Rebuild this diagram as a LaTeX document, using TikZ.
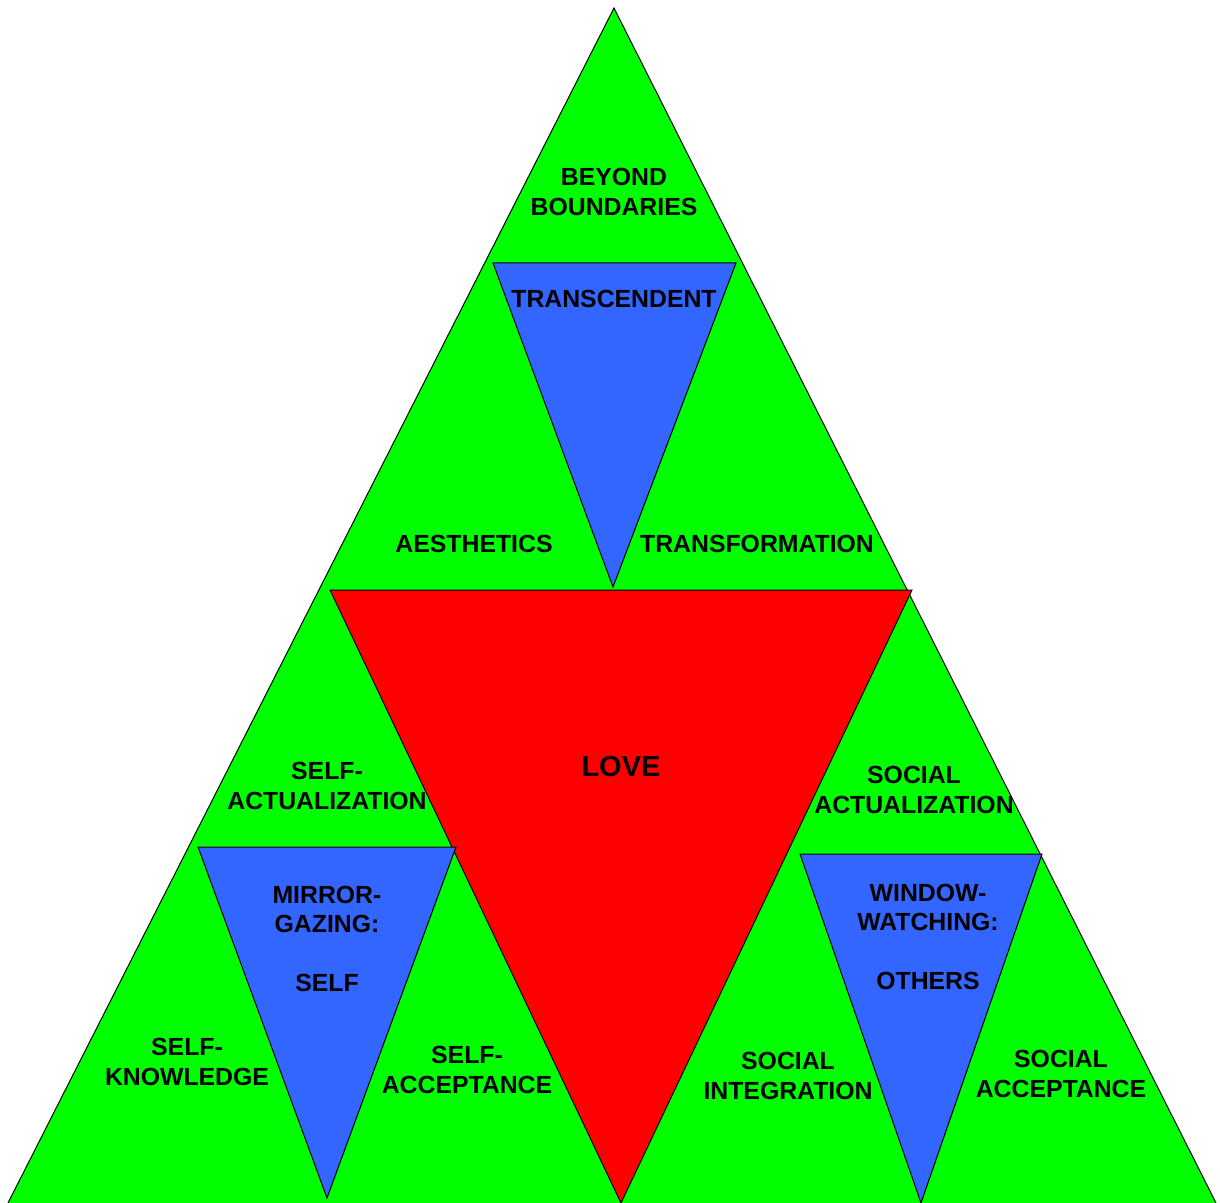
\documentclass[tikz,border=0pt]{standalone}
\usepackage{fontspec}
\setmainfont{Liberation Sans}
\definecolor{tgreen}{HTML}{00FF00}
\definecolor{tred}{HTML}{FF0000}
\definecolor{tblue}{HTML}{3366FF}
\begin{document}
\begin{tikzpicture}[x=0.5pt,y=-0.5pt,
  tri/.style={draw=black,line width=0.5pt,line join=miter},
  lbl/.style={inner sep=0pt,align=center,font=\fontsize{12.4}{14.6}\selectfont\bfseries},
  big/.style={inner sep=0pt,align=center,font=\fontsize{14.5}{17}\selectfont\bfseries}]
\useasboundingbox (0,0) rectangle (1220,1203);
% green pyramid
\fill[tgreen] (614,8) -- (8,1203) -- (1216,1203) -- cycle;
\draw[tri] (8,1203) -- (614,8) -- (1216,1203);
% red love triangle
\draw[tri,fill=tred] (330,590) -- (912,590) -- (621,1203) -- cycle;
% blue triangles
\draw[tri,fill=tblue] (493,263) -- (736,263) -- (613,587) -- cycle;
\draw[tri,fill=tblue] (198,847) -- (456,847) -- (327,1198) -- cycle;
\draw[tri,fill=tblue] (800,854) -- (1042,854) -- (921,1203) -- cycle;
% labels
\node[lbl] (beyond) at (614,192) {BEYOND\\BOUNDARIES};
\node[lbl] (transc) at (614,299) {TRANSCENDENT};
\node[lbl] (aesth) at (474,544) {AESTHETICS};
\node[lbl] (transf) at (757,544) {TRANSFORMATION};
\node[big] (love) at (621,767) {LOVE};
\node[lbl] (selfact) at (327,786) {SELF-\\ACTUALIZATION};
\node[lbl] (socact) at (914,790) {SOCIAL\\ACTUALIZATION};
\node[lbl] (mirror) at (327,939) {MIRROR-\\GAZING:\\\mbox{}\\SELF};
\node[lbl] (window) at (928,937) {WINDOW-\\WATCHING:\\\mbox{}\\OTHERS};
\node[lbl] (selfkn) at (187,1062) {SELF-\\KNOWLEDGE};
\node[lbl] (selfacc) at (467,1070) {SELF-\\ACCEPTANCE};
\node[lbl] (socint) at (788,1076) {SOCIAL\\INTEGRATION};
\node[lbl] (socacc) at (1061,1074) {SOCIAL\\ACCEPTANCE};
\end{tikzpicture}
\end{document}
